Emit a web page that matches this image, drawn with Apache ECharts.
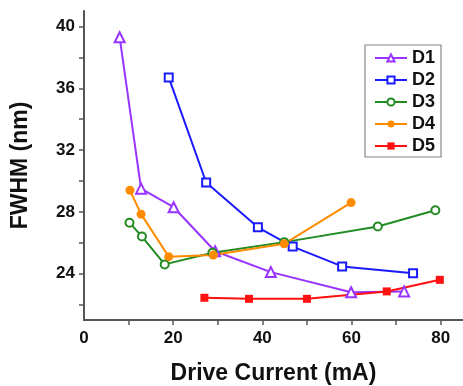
<!DOCTYPE html>
<html>
<head>
<meta charset="utf-8">
<script src="https://cdn.jsdelivr.net/npm/echarts@6/dist/echarts.min.js"></script>
<style>
  html, body { margin: 0; padding: 0; background: #fff; }
  #chart { width: 463px; height: 386px; }
</style>
</head>
<body>
<div id="chart"></div>
<script>
// data: [drive current mA, FWHM nm]
const d1 = [[8.0, 39.3], [12.8, 29.5], [20.1, 28.3], [29.4, 25.45], [41.9, 24.1], [59.9, 22.8], [71.8, 22.85]]
const d2 = [[19.0, 36.7], [27.4, 29.9], [39.0, 27.0], [46.8, 25.75], [57.9, 24.47], [73.8, 24.03]]
const d3 = [[10.2, 27.3], [13.0, 26.4], [18.1, 24.6], [28.8, 25.35], [44.9, 26.04], [65.9, 27.05], [78.8, 28.1]]
const d4 = [[10.3, 29.4], [12.8, 27.85], [19.0, 25.1], [29.0, 25.2], [44.9, 25.93], [59.9, 28.6]]
const d5 = [[27.0, 22.44], [37.0, 22.37], [50.0, 22.37], [67.9, 22.85], [79.8, 23.6]]

const xTicks = [10, 20, 30, 40, 50, 60, 70, 80]
const xLabels = [0, 20, 40, 60, 80]
const yTicks = [22, 24, 26, 28, 30, 32, 34, 36, 38, 40]
const yLabels = [24, 28, 32, 36, 40]

const chart = echarts.init(document.getElementById('chart'))

const axisLine = { show: true, lineStyle: { color: '#555', width: 2 } }
const labelFont = { color: '#111', fontSize: 17, fontWeight: 'bold', fontFamily: 'Liberation Sans, Arial' }
const titleFont = { color: '#111', fontSize: 23, fontWeight: 'bold', fontFamily: 'Liberation Sans, Arial' }

const mk = (name, data, color, symbol, size) => ({
  name,
  type: 'line',
  data,
  symbol,
  symbolSize: size,
  showAllSymbol: true,
  lineStyle: { color, width: 2 },
  itemStyle: { color, borderWidth: 1.5 },
  z: 3
})

chart.setOption({
  animation: false,
  grid: { left: 84, right: 0, top: 11, bottom: 66, outerBoundsMode: 'none' },
  legend: {
    orient: 'vertical',
    left: 365,
    top: 45,
    width: 76,
    padding: [4, 6, 2, 9],
    itemGap: 4,
    itemWidth: 32,
    itemHeight: 9,
    borderColor: '#888',
    borderWidth: 1.2,
    textStyle: { color: '#111', fontSize: 18, fontWeight: 'bold', fontFamily: 'Liberation Sans, Arial' },
    data: ['D1', 'D2', 'D3', 'D4', 'D5']
  },
  xAxis: {
    type: 'value',
    min: 0,
    max: 85,
    name: 'Drive Current (mA)',
    nameLocation: 'middle',
    nameGap: 42,
    nameTextStyle: titleFont,
    axisLine,
    axisTick: { show: true, customValues: xTicks, length: 5, lineStyle: { color: '#555', width: 1.5 } },
    axisLabel: Object.assign({ customValues: xLabels, margin: 10 }, labelFont),
    splitLine: { show: false }
  },
  yAxis: {
    type: 'value',
    min: 21,
    max: 41,
    name: 'FWHM (nm)',
    nameLocation: 'middle',
    nameGap: 52,
    nameTextStyle: titleFont,
    axisLine,
    axisTick: { show: true, customValues: yTicks, length: 5, lineStyle: { color: '#555', width: 1.5 } },
    axisLabel: Object.assign({ customValues: yLabels, margin: 9 }, labelFont),
    splitLine: { show: false }
  },
  series: [
    mk('D1', d1, '#9933ff', 'emptyTriangle', 10),
    mk('D2', d2, '#1a1aff', 'emptyRect', 8),
    mk('D3', d3, '#228b22', 'emptyCircle', 8),
    mk('D4', d4, '#ff8c00', 'circle', 9),
    mk('D5', d5, '#ff1111', 'rect', 8)
  ]
})
</script>
</body>
</html>
